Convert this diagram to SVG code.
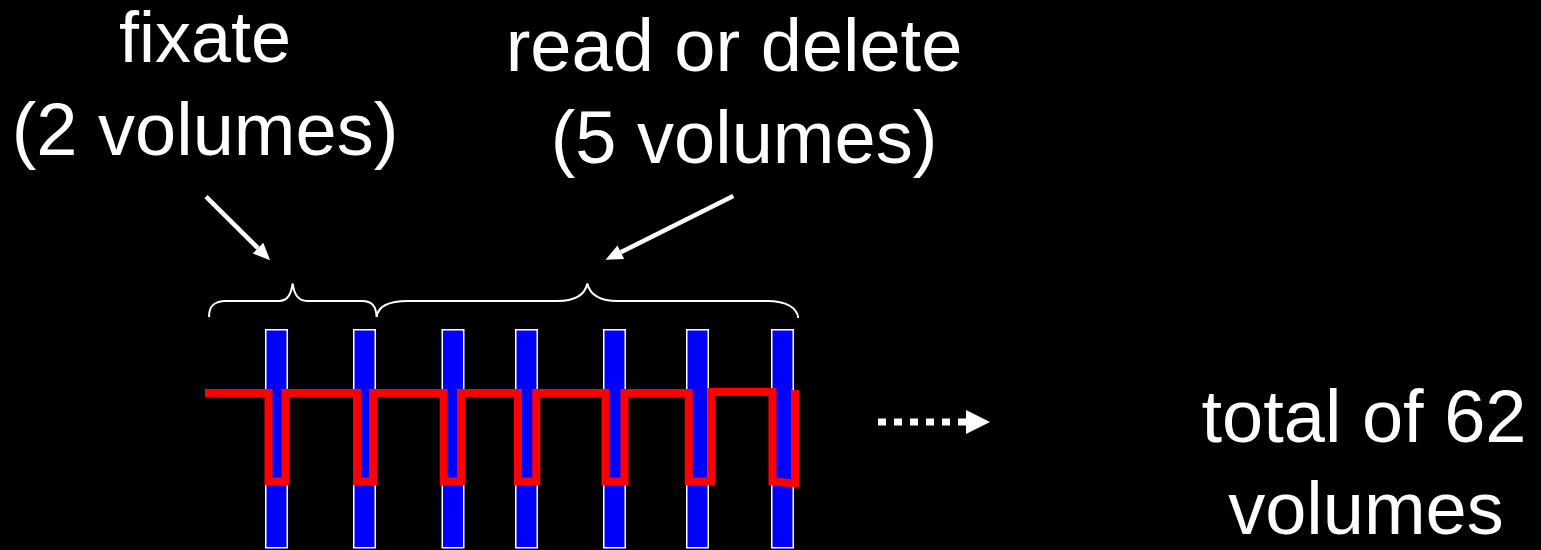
<svg xmlns="http://www.w3.org/2000/svg" width="1541" height="550" viewBox="0 0 1541 550">
  <style>
    .lbl { font-family: "Liberation Sans", Arial, sans-serif; fill: #ffffff; text-anchor: middle; }
    .vol { fill: #0000ff; stroke: #ffffff; stroke-width: 1.5; }
    .brace { fill: none; stroke: #ffffff; stroke-width: 2; }
    .ptr { fill: none; stroke: #ffffff; stroke-width: 4.5; }
    .trace { fill: none; stroke: #ff0000; stroke-width: 8; stroke-linejoin: miter; }
  </style>
  <defs>
    <marker id="head" markerUnits="userSpaceOnUse" markerWidth="18" markerHeight="16" refX="0" refY="7.5" orient="auto" overflow="visible">
      <path d="M0,0 L17,7.5 L0,15 z" fill="#ffffff"/>
    </marker>
  </defs>

  <rect x="0" y="0" width="1541" height="550" fill="#000000"/>

  <!-- labels -->
  <g id="label-fixate">
    <text class="lbl" x="205" y="62" font-size="72">fixate</text>
    <text class="lbl" x="205" y="155" font-size="74">(2 volumes)</text>
  </g>
  <g id="label-read">
    <text class="lbl" x="734" y="71" font-size="74">read or delete</text>
    <text class="lbl" x="744" y="163" font-size="74">(5 volumes)</text>
  </g>
  <g id="label-total">
    <text class="lbl" x="1364" y="442" font-size="74">total of 62</text>
    <text class="lbl" x="1366" y="534" font-size="74">volumes</text>
  </g>

  <!-- braces grouping the volumes -->
  <g id="brace-fixate">
    <path class="brace" d="M209,317 C209,306 214,301 226,301 H279 C288,301 291,294 292.7,283.5 C294,294 298,301 307,301 H362 C372,301 376,306 376.7,317"/>
  </g>
  <g id="brace-read">
    <path class="brace" d="M376.7,317 C378,305 390,301 408,301 H557 C575,301 585,295 587.3,283.5 C590,295 600,301 618,301 H767 C787,301 797,308 798.3,318"/>
  </g>

  <!-- volume bars -->
  <g id="volumes">
    <rect class="vol" x="265.75" y="329.75" width="21.5" height="218"/>
    <rect class="vol" x="353.75" y="329.75" width="21.5" height="218"/>
    <rect class="vol" x="442.25" y="329.75" width="21.5" height="218"/>
    <rect class="vol" x="515.75" y="329.75" width="21.5" height="218"/>
    <rect class="vol" x="603.75" y="329.75" width="21.5" height="218"/>
    <rect class="vol" x="686.75" y="329.75" width="21.5" height="218"/>
    <rect class="vol" x="771.75" y="329.75" width="21.5" height="218"/>
  </g>

  <!-- red trace weaving through the volumes -->
  <g id="trace">
    <path class="trace" d="M205,393 H268.5 V481.5 H285.5 V393 H357 V481.5 H373 V393 H443.7 V481.5 H461 V393 H518 V481.5 H536.3 V393 H605.5 V481.5 H624.5 V393 H688.7 V481.5 H711.3 V392 H772.5 V481.5 L795,483.5 V390"/>
  </g>

  <!-- connectors -->
  <g id="connectors">
    <line class="ptr" x1="206" y1="196.7" x2="258" y2="248.2" marker-end="url(#head)"/>
    <line class="ptr" x1="733.3" y1="196" x2="620.8" y2="252.2" marker-end="url(#head)"/>
    <line x1="878" y1="422" x2="966" y2="422" stroke="#ffffff" stroke-width="7" stroke-dasharray="8 8"/>
    <polygon points="966,410 990,422 966,434" fill="#ffffff"/>
  </g>
</svg>
